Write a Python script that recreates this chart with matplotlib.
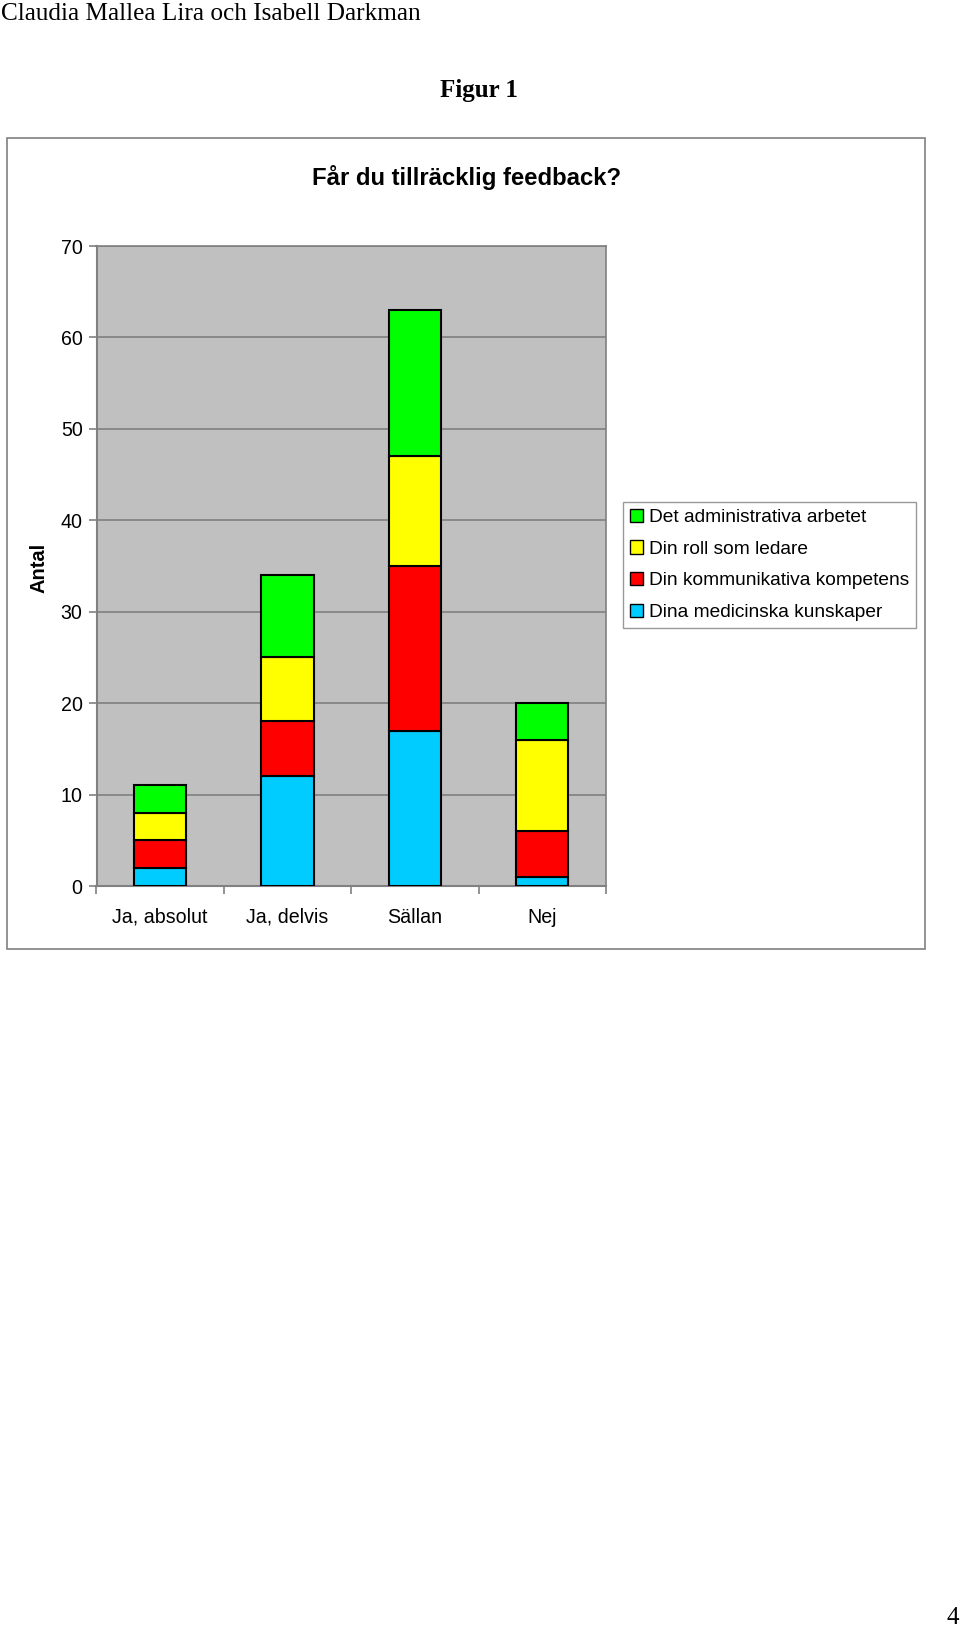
import matplotlib
matplotlib.use("Agg")
import matplotlib.pyplot as plt
from matplotlib.patches import Rectangle
import numpy as np

# svarsalternativ och antal per område
kategorier = ["Ja, absolut", "Ja, delvis", "Sällan", "Nej"]
medicinska = [2, 12, 17, 1]
kommunikativa = [3, 6, 18, 5]
ledare = [3, 7, 12, 10]
administrativa = [3, 9, 16, 4]

serier = ["Dina medicinska kunskaper", "Din kommunikativa kompetens",
          "Din roll som ledare", "Det administrativa arbetet"]
farger = ["#00CCFF", "#FF0000", "#FFFF00", "#00FF00"]

sans = "Liberation Sans"
serif = "Liberation Serif"

W, H = 960, 1627
fig = plt.figure(figsize=(W / 100, H / 100), dpi=100)

def fx(px):
    return px / W

def fy(py):
    return 1 - py / H

# sidhuvud
fig.text(fx(1), fy(14), "Claudia Mallea Lira och Isabell Darkman", family=serif,
         fontsize=18.2, va="center", ha="left")
fig.text(fx(479), fy(91), "Figur 1", family=serif, fontsize=18,
         fontweight="bold", ha="center", va="center")
fig.text(fx(953), fy(1618), "4", family=serif, fontsize=18, ha="center", va="center")

# ram runt diagrammet
fig.add_artist(Rectangle((fx(7), fy(949)), fx(925) - fx(7), fy(138) - fy(949),
                         transform=fig.transFigure, fill=False,
                         edgecolor="#808080", lw=1.2))

fig.text(fx(467), fy(178), "Får du tillräcklig feedback?", family=sans,
         fontsize=17.2, fontweight="bold", ha="center", va="center")
fig.text(fx(39), fy(568), "Antal", family=sans, fontsize=14.5, fontweight="bold",
         rotation=90, ha="center", va="center")

ax = fig.add_axes([fx(96.5), fy(886), fx(606) - fx(96.5), fy(246) - fy(886)])
ax.set_facecolor("#C0C0C0")

x = np.arange(len(kategorier))
data = [medicinska, kommunikativa, ledare, administrativa]
bottom = np.zeros(len(kategorier))
staplar = []
for vals, namn, farg in zip(data, serier, farger):
    b = ax.bar(x, vals, width=0.41, bottom=bottom, color=farg, edgecolor="black",
               linewidth=1.5, label=namn, zorder=3)
    staplar.append(b)
    bottom += np.array(vals)

ax.set_xlim(-0.5, 3.5)
ax.set_ylim(0, 70)
ax.set_yticks(range(0, 71, 10))
ax.yaxis.grid(True, color="#808080", lw=1.2, zorder=0)
ax.set_axisbelow(True)

ax.set_xticks(x)
ax.set_xticklabels(kategorier, family=sans, fontsize=14.1)
ax.set_xticks([-0.5, 0.5, 1.5, 2.5, 3.5], minor=True)
ax.tick_params(axis="x", which="major", length=0, pad=15.5)
ax.tick_params(axis="x", which="minor", length=6, color="#808080", width=1.2)
ax.tick_params(axis="y", length=6, color="#808080", width=1.2, pad=4)
for lab in ax.get_yticklabels():
    lab.set_family(sans)
    lab.set_fontsize(14.1)

for s in ["top", "right"]:
    ax.spines[s].set_color("#808080")
    ax.spines[s].set_linewidth(1.2)
for s in ["left", "bottom"]:
    ax.spines[s].set_color("#808080")
    ax.spines[s].set_linewidth(1.5)

handles = staplar[::-1]
leg = fig.legend(handles, [h.get_label() for h in handles], loc="upper left",
                 bbox_to_anchor=(fx(623), fy(502)), bbox_transform=fig.transFigure,
                 borderaxespad=0, fancybox=False, frameon=True,
                 prop={"family": sans, "size": 13.8}, handlelength=0.7,
                 handleheight=0.7, handletextpad=0.3, labelspacing=0.74,
                 borderpad=0.35)
leg.get_frame().set_edgecolor("#808080")
leg.get_frame().set_linewidth(1.0)
for p in leg.get_patches():
    p.set_linewidth(1.0)

fig.savefig("out.png", dpi=100)
